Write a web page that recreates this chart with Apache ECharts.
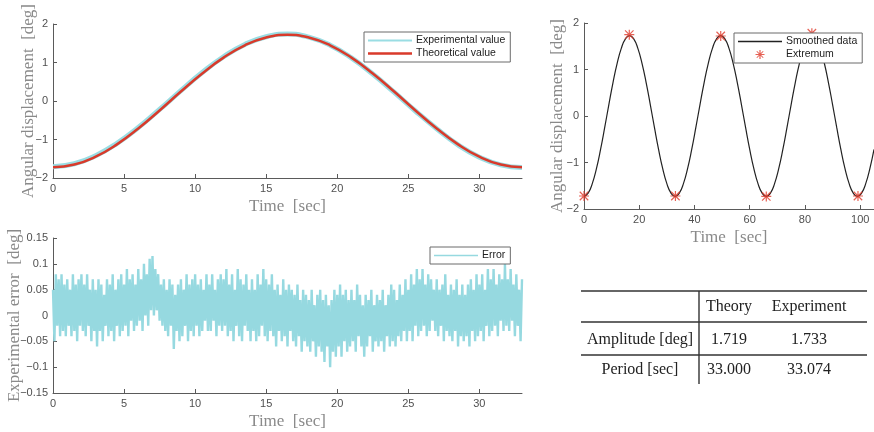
<!DOCTYPE html>
<html>
<head>
<meta charset="utf-8">
<script src="https://cdn.jsdelivr.net/npm/echarts@6/dist/echarts.min.js"></script>
<style>
html,body{margin:0;padding:0;background:#fff;}
#c{width:874px;height:432px;}
</style>
</head>
<body>
<div id="c"></div>
<script>
// ---------- data ----------
// top-left: time step 1.5 s
var tlStep = 1.5;
var expValue = [-1.71,-1.63,-1.42,-1.10,-0.69,-0.22,0.27,0.74,1.15,1.47,1.67,1.74,1.66,1.45,1.12,0.70,0.23,-0.26,-0.72,-1.14,-1.46,-1.66,-1.73];
var theoValue = [-1.719,-1.649,-1.446,-1.126,-0.714,-0.245,0.245,0.714,1.126,1.446,1.649,1.719,1.649,1.446,1.126,0.714,0.245,-0.245,-0.714,-1.126,-1.446,-1.649,-1.719];

// bottom-left: error envelope, step 0.2 s (upper peaks, lower troughs)
var errStep = 0.2;
var errUpper = [
 .05,.08,.07,.08,.06, .07,.05,.08,.06,.07, .08,.06,.08,.05,.07, .05,.07,.06,.04,.07,
 .06,.08,.05,.07,.08, .06,.09,.07,.08,.06, .09,.07,.10,.08,.11, .115,.09,.08,.06,.07,
 .05,.07,.06,.04,.06, .07,.05,.08,.06,.07, .08,.06,.07,.05,.08, .06,.08,.05,.07,.08,
 .07,.09,.06,.08,.05, .09,.07,.06,.08,.05, .07,.05,.08,.06,.09, .07,.06,.08,.05,.06,
 .04,.07,.05,.06,.05, .04,.06,.03,.05,.04, .03,.05,.02,.04,.05, .03,.04,.02,.03,.05,
 .04,.06,.04,.05,.03, .05,.03,.06,.04,.02, .04,.03,.05,.02,.04, .03,.05,.02,.04,.06,
 .05,.03,.06,.04,.07, .05,.08,.06,.09,.07, .09,.06,.08,.07,.05, .07,.05,.06,.08,.04,
 .06,.05,.07,.04,.06, .04,.06,.07,.05,.08, .06,.08,.05,.09,.07, .09,.06,.08,.07,.10,
 .07,.09,.06,.08,.05, .07];
var errLower = [
 -.05,-.02,-.04,-.03,-.04, -.02,-.04,-.03,-.05,-.02, -.03,-.04,-.02,-.05,-.03, -.06,-.03,-.05,-.02,-.04,
 -.03,-.05,-.02,-.04,-.03, -.02,-.04,-.01,-.03,-.02, -.01,-.03,.00,-.02,.01, .00,.01,-.01,-.02,-.03,
 -.04,-.02,-.065,-.03,-.05, -.04,-.02,-.05,-.03,-.04, -.02,-.04,-.03,-.01,-.03, -.03,-.01,-.04,-.02,-.03,
 -.02,-.04,-.03,-.05,-.02, -.04,-.05,-.02,-.03,-.05, -.03,-.05,-.04,-.02,-.04, -.05,-.03,-.04,-.06,-.03,
 -.05,-.04,-.06,-.03,-.05, -.06,-.04,-.07,-.05,-.06, -.07,-.05,-.08,-.06,-.07, -.09,-.06,-.10,-.07,-.08,
 -.06,-.08,-.05,-.07,-.06, -.05,-.07,-.04,-.06,-.08, -.06,-.04,-.07,-.05,-.06, -.05,-.07,-.04,-.06,-.05,
 -.06,-.04,-.05,-.03,-.05, -.03,-.05,-.02,-.04,-.03, -.02,-.04,-.03,-.01,-.03, -.04,-.02,-.05,-.03,-.04,
 -.05,-.03,-.06,-.04,-.05, -.04,-.06,-.03,-.05,-.04, -.03,-.05,-.02,-.04,-.03, -.02,-.04,-.01,-.03,-.02,
 -.03,-.01,-.04,-.02,-.05, -.03];

// top-right: smoothed data, step 1.5 s
var trStep = 1.5;
var smoothed = [
 -1.73,-1.66,-1.455,-1.133,-0.719,-0.246,0.246,0.719,1.133,1.455,1.66,
 1.73,1.66,1.455,1.133,0.719,0.246,-0.246,-0.719,-1.133,-1.455,-1.66,
 -1.73,-1.66,-1.455,-1.133,-0.719,-0.246,0.246,0.719,1.133,1.455,1.66,
 1.73,1.66,1.455,1.133,0.719,0.246,-0.246,-0.719,-1.133,-1.455,-1.66,
 -1.73,-1.66,-1.455,-1.133,-0.719,-0.246,0.246,0.719,1.133,1.455,1.66,
 1.75,1.68,1.47,1.14,0.72,0.246,-0.246,-0.719,-1.133,-1.455,-1.66,
 -1.73,-1.66,-1.455,-1.133,-0.719];
var extremumT = [0,16.4,33.1,49.5,66.0,82.5,99.2];
var extremumV = [-1.72,1.75,-1.72,1.72,-1.73,1.78,-1.72];

// table
var tableCols = ['Theory','Experiment'];
var tableRows = ['Amplitude [deg]','Period [sec]'];
var theoryVals = ['1.719','33.000'];
var expVals = ['1.733','33.074'];

// ---------- build ----------
function pairs(step, arr){ return arr.map(function(v,i){ return [+(i*step).toFixed(3), v]; }); }
var errData = [];
for (var k=0;k<errUpper.length;k++){
  errData.push([+(k*errStep).toFixed(3), errUpper[k]]);
  if (k < errUpper.length-1) errData.push([+(k*errStep+errStep/2).toFixed(3), errLower[k]]);
}
var extData = extremumT.map(function(t,i){ return [t, extremumV[i]]; });

var tickFont = 'Liberation Sans';
var nameFont = 'Liberation Serif';
var axisColor = '#5a5a5a';
function minus(v){ return String(v).replace('-', '\u2212'); }
function fmt2(v){ var s = (Math.round(v*100)/100).toString(); return minus(s); }

function xAxis(gi, max, interval, vals){
  return {
    type:'value', gridIndex: gi, min:0, max:max, interval: interval,
    name:'Time  [sec]', nameLocation:'middle', nameGap: 20, nameMoveOverlap:false,
    nameTextStyle:{fontFamily:nameFont, fontSize:17, color:'#8a8a8a'},
    axisLine:{onZero:false, lineStyle:{color:axisColor, width:1}},
    axisTick:{inside:true, length:4, lineStyle:{color:axisColor}, customValues: vals},
    axisLabel:{fontFamily:tickFont, fontSize:11, color:'#505050', margin:5, customValues: vals},
    splitLine:{show:false}
  };
}
function yAxis(gi, min, max, interval, name, gap, f){
  return {
    type:'value', gridIndex: gi, min:min, max:max, interval: interval,
    name:name, nameLocation:'middle', nameGap: gap, nameMoveOverlap:false,
    nameTextStyle:{fontFamily:nameFont, fontSize:17, color:'#8a8a8a'},
    axisLine:{show:true, lineStyle:{color:axisColor, width:1}},
    axisTick:{show:true, inside:true, length:4, lineStyle:{color:axisColor}},
    axisLabel:{fontFamily:tickFont, fontSize:11, color:'#505050', margin:5, formatter:f},
    splitLine:{show:false}
  };
}

var asterisk = 'path://M0,4.4L10,4.4L10,5.6L0,5.6Z M4.4,0L5.6,0L5.6,10L4.4,10Z M1.2,0.35L9.65,8.8L8.8,9.65L0.35,1.2Z M8.8,0.35L9.65,1.2L1.2,9.65L0.35,8.8Z';
// legend line icons: a bar of given thickness centred in a 44x9 box (tiny corner dots fix the box)
function lineIcon(th){
  var a = (4.5 - th/2).toFixed(2), b = (4.5 + th/2).toFixed(2);
  return 'path://M0,0L0.01,0L0,0.01Z M0,' + a + 'L44,' + a + 'L44,' + b + 'L0,' + b + 'Z M44,9L43.99,9L44,8.99Z';
}
var legendAsterisk = 'path://M0,0L0.01,0L0,0.01Z M44,9L43.99,9L44,8.99Z M17.5,3.9L26.5,3.9L26.5,5.1L17.5,5.1Z M21.4,0L22.6,0L22.6,9L21.4,9Z M19.1,0.9L25.6,7.4L24.9,8.1L18.4,1.6Z M24.9,0.9L25.6,1.6L19.1,8.1L18.4,7.4Z';

function legend(items, left, top){
  return {
    data: items, orient:'vertical', left:left, top:top,
    itemWidth:44, itemHeight:9, itemGap:2, padding:[3,5,3,4],
    backgroundColor:'#fff', borderColor:'#6a6a6a', borderWidth:1, borderRadius:0,
    textStyle:{fontFamily:tickFont, fontSize:10.5, color:'#222', padding:[0,0,0,-1]},
    selectedMode:false, z:10
  };
}

// table graphics
var g = [];
var tL = 581, tR = 867, vX = 699;
[291, 322, 355].forEach(function(y){
  g.push({type:'line', shape:{x1:tL,y1:y,x2:tR,y2:y}, style:{stroke:'#333', lineWidth:1.4}});
});
g.push({type:'line', shape:{x1:vX,y1:291,x2:vX,y2:384}, style:{stroke:'#333', lineWidth:1.4}});
var colX = [729, 809], rowY = [340, 370];
function tx(t, x, y, align){
  return {type:'text', x:x, y:y, style:{text:t, fill:'#222', font:'16px "Liberation Serif"', align:align||'center', verticalAlign:'middle'}};
}
tableCols.forEach(function(c,i){ g.push(tx(c, colX[i], 307)); });
tableRows.forEach(function(r,i){
  g.push(tx(r, 640, rowY[i]));
  g.push(tx(theoryVals[i], colX[0], rowY[i]));
  g.push(tx(expVals[i], colX[1], rowY[i]));
});

var option = {
  animation:false,
  backgroundColor:'#fff',
  grid:[
    {left:53, top:24, width:469, height:154, outerBoundsMode:'none', containLabel:false},
    {left:53, top:238, width:469, height:155, outerBoundsMode:'none', containLabel:false},
    {left:584, top:23, width:290, height:186, outerBoundsMode:'none', containLabel:false}
  ],
  xAxis:[
    xAxis(0, 33, 5, [0,5,10,15,20,25,30]),
    xAxis(1, 33, 5, [0,5,10,15,20,25,30]),
    xAxis(2, 105, 20, [0,20,40,60,80,100])
  ],
  yAxis:[
    yAxis(0, -2, 2, 1, 'Angular displacement  [deg]', 16, minus),
    yAxis(1, -0.15, 0.15, 0.05, 'Experimental error  [deg]', 30, fmt2),
    yAxis(2, -2, 2, 1, 'Angular displacement  [deg]', 18, minus)
  ],
  legend:[
    legend([{name:'Experimental value', icon:lineIcon(2)},{name:'Theoretical value', icon:lineIcon(2.6)}], 364, 32),
    legend([{name:'Error', icon:lineIcon(1.5)}], 430, 247),
    legend([{name:'Smoothed data', icon:lineIcon(1.3)},{name:'Extremum', icon:legendAsterisk}], 734, 33)
  ],
  series:[
    {name:'Experimental value', type:'line', xAxisIndex:0, yAxisIndex:0, data:pairs(tlStep, expValue),
     smooth:0.5, showSymbol:false, symbol:'none', lineStyle:{color:'#9adde3', width:5}, itemStyle:{color:'#9adde3'}, z:2},
    {name:'Theoretical value', type:'line', xAxisIndex:0, yAxisIndex:0, data:pairs(tlStep, theoValue),
     smooth:0.5, showSymbol:false, symbol:'none', lineStyle:{color:'#d93a2b', width:2.5}, itemStyle:{color:'#d93a2b'}, z:3},
    {name:'Error', type:'line', xAxisIndex:1, yAxisIndex:1, data:errData,
     showSymbol:false, symbol:'none', lineStyle:{color:'#96d9e0', width:2.4}, itemStyle:{color:'#96d9e0'}},
    {name:'Smoothed data', type:'line', xAxisIndex:2, yAxisIndex:2, data:pairs(trStep, smoothed),
     smooth:0.5, showSymbol:false, symbol:'none', lineStyle:{color:'#222', width:1.2}, itemStyle:{color:'#222'}},
    {name:'Extremum', type:'scatter', xAxisIndex:2, yAxisIndex:2, data:extData,
     symbol:asterisk, symbolSize:10, itemStyle:{color:'#e0392b'}, z:3}
  ],
  graphic:g
};
var chart = echarts.init(document.getElementById('c'), null, {renderer:'canvas'});
chart.setOption(option);
</script>
</body>
</html>
